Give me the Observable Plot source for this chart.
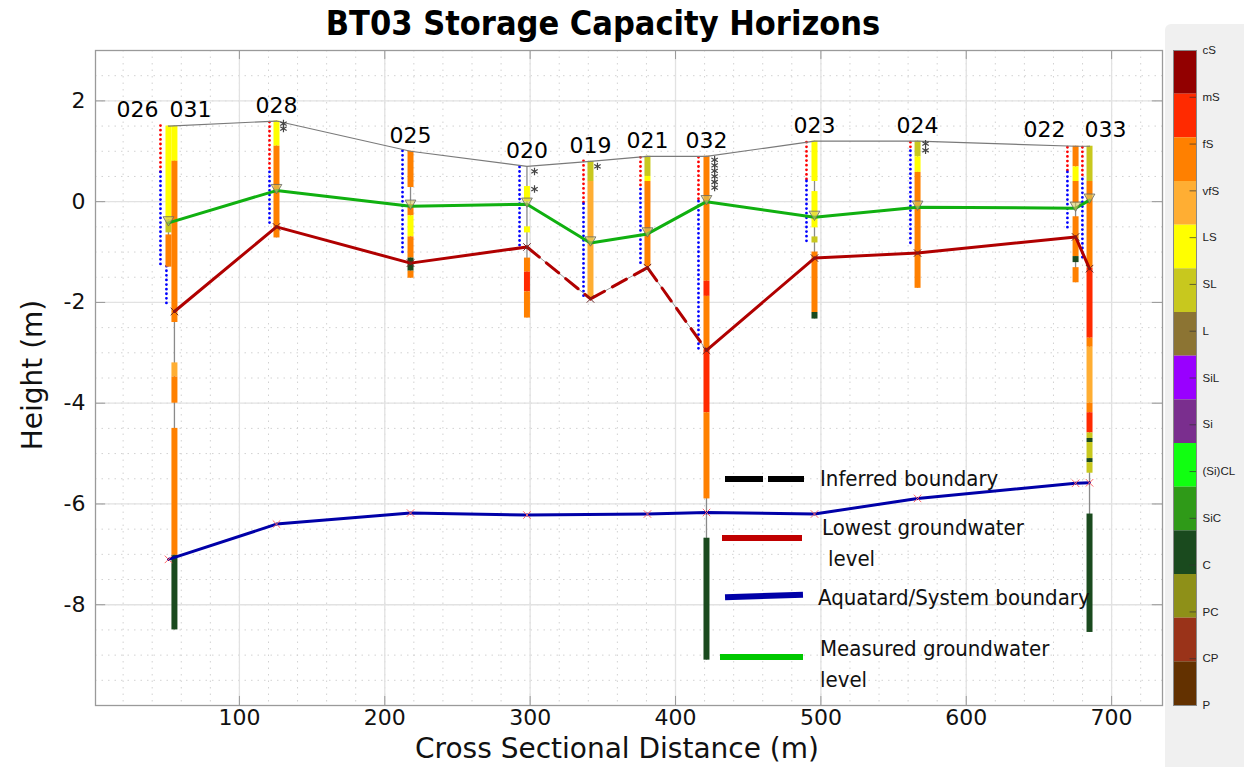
<!DOCTYPE html>
<html><head><meta charset="utf-8">
<script src="https://cdn.jsdelivr.net/npm/d3@7"></script>
<script src="https://cdn.jsdelivr.net/npm/@observablehq/plot@0.6"></script>
<style>
body{margin:0;background:#fff;}
#wrap{position:relative;width:1244px;height:767px;overflow:hidden;background:#fff;font-family:"DejaVu Sans",sans-serif;}
#panel{position:absolute;left:1165px;top:24px;width:79px;height:743px;background:#f0f0f0;border-top-left-radius:6px;}
#title{position:absolute;left:0;width:1206px;top:3px;text-align:center;font-family:"DejaVu Sans Condensed","DejaVu Sans";font-weight:bold;font-size:34px;line-height:40px;color:#000;}
.axl{position:absolute;font-family:"DejaVu Sans";font-size:28px;white-space:nowrap;color:#111;transform:translate(-50%,-50%);}
#ylab{left:32px;top:375px;transform:translate(-50%,-50%) rotate(-90deg);}
#xlab{left:617px;top:748px;}
.leg{position:absolute;font-family:"DejaVu Sans Condensed","DejaVu Sans";font-size:22px;white-space:nowrap;color:#111;line-height:26px;}
.sw{position:absolute;height:6px;}
#main,#cbar{position:absolute;top:0;}
#main{left:0;}
#cbar{left:1165px;}
</style></head>
<body><div id="wrap">
<div id="panel"></div>
<div id="title">BT03 Storage Capacity Horizons</div>
<div id="main"></div>
<div id="cbar"></div>
<div class="axl" id="ylab">Height (m)</div>
<div class="axl" id="xlab">Cross Sectional Distance (m)</div>
<div class="sw" style="left:725px;top:476px;width:38px;background:#000"></div>
<div class="sw" style="left:768px;top:476px;width:36px;background:#000"></div>
<div class="leg" style="left:820px;top:466px">Inferred boundary</div>
<div class="sw" style="left:722px;top:535px;width:80px;background:#c00000"></div>
<div class="leg" style="left:822px;top:515px">Lowest groundwater</div>
<div class="leg" style="left:828px;top:546px">level</div>
<div class="sw" style="left:725px;top:593px;width:78px;background:#0000a8;transform:rotate(-2deg)"></div>
<div class="leg" style="left:818px;top:585px">Aquatard/System boundary</div>
<div class="sw" style="left:720px;top:654px;width:83px;background:#00c800"></div>
<div class="leg" style="left:820px;top:636px">Measured groundwater</div>
<div class="leg" style="left:820px;top:667px">level</div>
</div>
<script>
// ---- lithology classes (colour bar) ----
const classNames = ["cS","mS","fS","vfS","LS","SL","L","SiL","Si","(Si)CL","SiC","C","PC","CP","P"];
const classColors = ["#920000","#ff2a00","#ff8000","#ffae33","#ffff00","#c8c81e","#8c7433","#9900ff","#7a2e8e","#11ff11","#2f9a18","#1a4a1e","#8e9018","#9a3319","#633100"];

// ---- wells ----
const wellNames  = ["026","031","028","025","020","019","021","032","023","024","022","033"];
const wellX      = [51.2, 55.3, 125.5, 217.7, 297.8, 341.5, 380.7, 421.3, 495.6, 566.5, 675.2, 684.8];
const wellTop    = [1.5, 1.5, 1.6, 1.0, 0.7, 0.8, 0.9, 0.9, 1.2, 1.2, 1.1, 1.1];
const wellBottom = [-1.3, -8.5, -0.72, -1.52, -2.31, -1.91, -1.29, -9.1, -2.33, -1.72, -1.61, -8.55];
const labelAnchor = ["end","start","middle","middle","middle","middle","middle","middle","middle","middle","end","start"];

// ---- lithology logs: [top, base, class] ----
const litho026 = [[1.5,-0.36,"LS"],[-0.36,-0.62,"SL"],[-0.66,-1.3,"fS"]];
const litho031 = [[1.5,0.8,"LS"],[0.8,-2.4,"fS"],[-3.2,-3.48,"vfS"],[-3.48,-4.0,"fS"],[-4.5,-7.02,"fS"],[-7.02,-8.5,"C"]];
const litho028 = [[1.6,1.1,"LS"],[1.1,-0.72,"fS"]];
const litho025 = [[1.0,0.28,"fS"],[-0.06,-0.28,"fS"],[-0.28,-0.7,"LS"],[-0.7,-1.12,"fS"],[-1.12,-1.38,"C"],[-1.38,-1.52,"fS"]];
const litho020 = [[0.3,0.0,"LS"],[-0.5,-0.62,"LS"],[-1.12,-1.4,"fS"],[-1.4,-1.79,"mS"],[-1.79,-2.31,"fS"]];
const litho019 = [[0.8,0.4,"SL"],[0.4,-1.91,"vfS"]];
const litho021 = [[0.9,0.5,"SL"],[0.5,0.4,"LS"],[0.4,-1.29,"fS"]];
const litho032 = [[0.9,-1.58,"fS"],[-1.58,-1.88,"mS"],[-1.88,-2.95,"fS"],[-2.95,-4.19,"mS"],[-4.19,-5.9,"fS"],[-6.68,-9.1,"C"]];
const litho023 = [[1.2,0.4,"LS"],[0.2,-0.52,"LS"],[-0.7,-0.82,"SL"],[-1.0,-2.2,"fS"],[-2.2,-2.33,"C"]];
const litho024 = [[1.2,0.89,"SL"],[0.89,0.58,"LS"],[0.58,-1.72,"fS"]];
const litho022 = [[1.1,0.69,"fS"],[0.69,0.4,"LS"],[0.4,-0.03,"fS"],[-0.3,-1.09,"fS"],[-1.09,-1.21,"C"],[-1.31,-1.61,"fS"]];
const litho033 = [[1.1,0.4,"SL"],[0.4,-1.32,"fS"],[-1.32,-2.71,"mS"],[-2.71,-2.89,"fS"],[-2.89,-4.0,"vfS"],[-4.0,-4.19,"fS"],[-4.19,-4.59,"mS"],[-4.59,-4.7,"SL"],[-4.7,-4.78,"C"],[-4.78,-5.1,"SL"],[-5.1,-5.18,"C"],[-5.18,-5.39,"SL"],[-6.2,-8.55,"C"]];
const lithoLogs = [litho026, litho031, litho028, litho025, litho020, litho019, litho021, litho032, litho023, litho024, litho022, litho033];

// ---- screen (dotted) intervals: red from top to mid, blue from mid to bottom ----
const screenX   = [45.7, 49.8, 120.7, 212.2, 292.7, 336.7, 375.9, 415.8, 490.1, 561.6, 669.6, 679.9];
const screenTop = [1.5, -1.29, 1.57, 1.0, 0.68, 0.8, 0.87, 0.87, 1.17, 1.17, 1.07, 1.07];
const screenMid = [0.58, -1.29, 0.58, 1.0, 0.68, -0.05, 0.24, 0.0, 0.4, 1.0, 0.58, 0.44];
const screenBot = [-1.29, -2.09, -0.5, -1.09, -0.89, -1.9, -1.29, -2.94, -0.8, -0.89, -0.6, -1.19];

// ---- horizons ----
const surfX = [51.2, 125.5, 217.7, 297.8, 341.5, 380.7, 421.3, 495.6, 566.5, 675.2, 684.8];
const surfY = [1.5, 1.6, 1.0, 0.7, 0.8, 0.9, 0.9, 1.2, 1.2, 1.1, 1.1];
const measX = [51.2, 125.5, 217.7, 297.8, 341.5, 380.7, 421.3, 495.6, 566.5, 675.2, 684.8];
const measY = [-0.42, 0.22, -0.09, -0.05, -0.82, -0.64, 0.0, -0.31, -0.11, -0.13, 0.03];
const lowX  = [55.3, 125.5, 217.7, 297.8, 341.5, 380.7, 421.3, 495.6, 566.5, 675.2, 684.8];
const lowY  = [-2.18, -0.5, -1.22, -0.9, -1.93, -1.31, -2.95, -1.12, -1.02, -0.7, -1.33];
const lowInferred = [false, false, false, true, true, true, false, false, false, false]; // per segment
const aqX = [51.2, 125.5, 217.7, 297.8, 380.7, 421.3, 495.6, 566.5, 675.2, 684.8];
const aqY = [-7.1, -6.4, -6.18, -6.22, -6.2, -6.17, -6.2, -5.89, -5.59, -5.58];

// ---- water strike asterisks ----
const astX = [130.3, 130.3, 303, 303, 346.3, 426.9, 426.9, 426.9, 426.9, 426.9, 426.9, 572, 572];
const astY = [1.55, 1.45, 0.6, 0.25, 0.7, 0.83, 0.72, 0.61, 0.5, 0.39, 0.28, 1.15, 1.02];

// ---- axis ticks ----
const xTicks = [100, 200, 300, 400, 500, 600, 700];
const yTicks = [2, 0, -2, -4, -6, -8];

// ---- build tables ----
const wells = wellNames.map((n, i) => ({name: n, x: wellX[i], top: wellTop[i], bottom: wellBottom[i], anchor: labelAnchor[i]}));
const layers = wells.flatMap((w, i) => lithoLogs[i].map(([t, b, c]) => ({x: w.x, y1: t, y2: b, cls: c})));
const screens = screenX.map((x, i) => ({x, top: screenTop[i], mid: screenMid[i], bot: screenBot[i]}));
const pts = (xs, ys) => xs.map((x, i) => ({x, y: ys[i]}));
const surf = pts(surfX, surfY), meas = pts(measX, measY), low = pts(lowX, lowY), aq = pts(aqX, aqY);
const lowSegs = lowInferred.map((inf, i) => ({inf, a: low[i], b: low[i + 1]}));
const lowSolid = lowSegs.filter(s => !s.inf).flatMap((s, k) => [{...s.a, k}, {...s.b, k}]);
const lowDash = lowSegs.filter(s => s.inf).flatMap((s, k) => [{...s.a, k}, {...s.b, k}]);
const ast = pts(astX, astY);
const minorX = d3.range(20, 735, 20);
const minorY = d3.range(-10, 3.01, 0.5);

const colorScale = {domain: classNames, range: classColors};

const main = Plot.plot({
  width: 1244, height: 767,
  marginLeft: 95, marginRight: 82, marginTop: 50, marginBottom: 62,
  x: {domain: [1, 735]},
  y: {domain: [-10, 3]},
  color: colorScale,
  style: {fontFamily: "DejaVu Sans", fontSize: "22px", color: "#111", background: "transparent", overflow: "visible"},
  marks: [
    Plot.ruleY(minorY, {stroke: "#d2d2d2", strokeWidth: 1, strokeDasharray: "1.5,5"}),
    Plot.ruleX(minorX, {stroke: "#d2d2d2", strokeWidth: 1, strokeDasharray: "1.5,5"}),
    Plot.ruleY(yTicks, {stroke: "#e2e2e2", strokeWidth: 1.3}),
    Plot.ruleX(xTicks, {stroke: "#e2e2e2", strokeWidth: 1.3}),
    // inward ticks
    Plot.ruleY(yTicks, {x1: 1, x2: 8, stroke: "#999"}),
    Plot.ruleY(yTicks, {x1: 728, x2: 735, stroke: "#999"}),
    Plot.ruleX(xTicks, {y1: 3, y2: 2.82, stroke: "#999"}),
    Plot.ruleX(xTicks, {y1: -10, y2: -9.82, stroke: "#999"}),
    // well casing lines
    Plot.ruleX(wells, {x: "x", y1: "top", y2: "bottom", stroke: "#8a8a8a", strokeWidth: 1.3}),
    // screens
    Plot.ruleX(screens.filter(d => d.top > d.mid), {x: "x", y1: "top", y2: "mid", stroke: "#ff0000", strokeWidth: 2.8, strokeDasharray: "0,4.6", strokeLinecap: "round"}),
    Plot.ruleX(screens, {x: "x", y1: "mid", y2: "bot", stroke: "#0000ff", strokeWidth: 2.8, strokeDasharray: "0,4.6", strokeLinecap: "round"}),
    // lithology
    Plot.ruleX(layers, {x: "x", y1: "y1", y2: "y2", stroke: "cls", strokeWidth: 6}),
    // ground surface
    Plot.line(surf, {x: "x", y: "y", stroke: "#7a7a7a", strokeWidth: 1.2}),
    // horizons
    Plot.line(meas, {x: "x", y: "y", stroke: "#10b010", strokeWidth: 3}),
    Plot.line(lowDash, {x: "x", y: "y", z: "k", stroke: "#999", strokeWidth: 1}),
    Plot.line(lowSolid, {x: "x", y: "y", z: "k", stroke: "#b00000", strokeWidth: 3}),
    Plot.line(lowDash, {x: "x", y: "y", z: "k", stroke: "#b00000", strokeWidth: 3, strokeDasharray: "16,9"}),
    Plot.line(aq, {x: "x", y: "y", stroke: "#0000a8", strokeWidth: 3}),
    // node markers
    Plot.dot(meas, {x: "x", y: "y", symbol: "triangle", rotate: 180, r: 4, dy: -3, fill: "#d8cc60", fillOpacity: 0.6, stroke: "#666", strokeWidth: 0.8}),
    Plot.dot(low, {x: "x", y: "y", symbol: "times", r: 3.5, stroke: "#6a2a2a", strokeWidth: 1}),
    Plot.dot(aq, {x: "x", y: "y", symbol: "times", r: 3.5, stroke: "#ff6a6a", strokeWidth: 1}),
    Plot.dot(ast, {x: "x", y: "y", symbol: "asterisk", r: 3.5, stroke: "#444", strokeWidth: 1.2}),
    // well labels
    Plot.text(wells.filter(w => w.anchor === "middle"), {x: "x", y: "top", text: "name", textAnchor: "middle", lineAnchor: "middle", dy: -15, fill: "#000"}),
    Plot.text(wells.filter(w => w.anchor === "end"), {x: "x", y: "top", text: "name", textAnchor: "end", lineAnchor: "middle", dx: -10, dy: -16, fill: "#000"}),
    Plot.text(wells.filter(w => w.anchor === "start"), {x: "x", y: "top", text: "name", textAnchor: "start", lineAnchor: "middle", dx: -5, dy: -16, fill: "#000"}),
    // axes
    Plot.axisX({ticks: xTicks, tickSize: 0, tickPadding: 4, label: null, tickFormat: d => String(d)}),
    Plot.axisY({ticks: yTicks, tickSize: 0, tickPadding: 10, label: null, tickFormat: d => String(d)}),
    Plot.frame({stroke: "#9a9a9a", strokeWidth: 1.3})
  ]
});
document.getElementById("main").appendChild(main);

// ---- colour bar ----
const bands = classNames.map((c, i) => ({c, i}));
const cbar = Plot.plot({
  width: 79, height: 767,
  marginLeft: 8, marginRight: 48, marginTop: 50, marginBottom: 62,
  x: {domain: [0, 1], axis: null},
  y: {domain: [0, 15], reverse: true, axis: null},
  color: colorScale,
  style: {fontFamily: "Liberation Sans", fontSize: "11.5px", background: "transparent", overflow: "visible"},
  marks: [
    Plot.rect(bands, {x1: 0, x2: 1, y1: "i", y2: d => d.i + 1, fill: "c"}),
    Plot.ruleY(bands, {y: d => d.i * 15 / 14, x1: 0.72, x2: 1, stroke: "#333", strokeOpacity: 0.7}),
    Plot.text(bands, {x: 1, y: d => d.i * 15 / 14, text: "c", textAnchor: "start", dx: 6, fill: "#222"}),
    Plot.frame({stroke: "#888"})
  ]
});
document.getElementById("cbar").appendChild(cbar);
</script>
</body></html>
